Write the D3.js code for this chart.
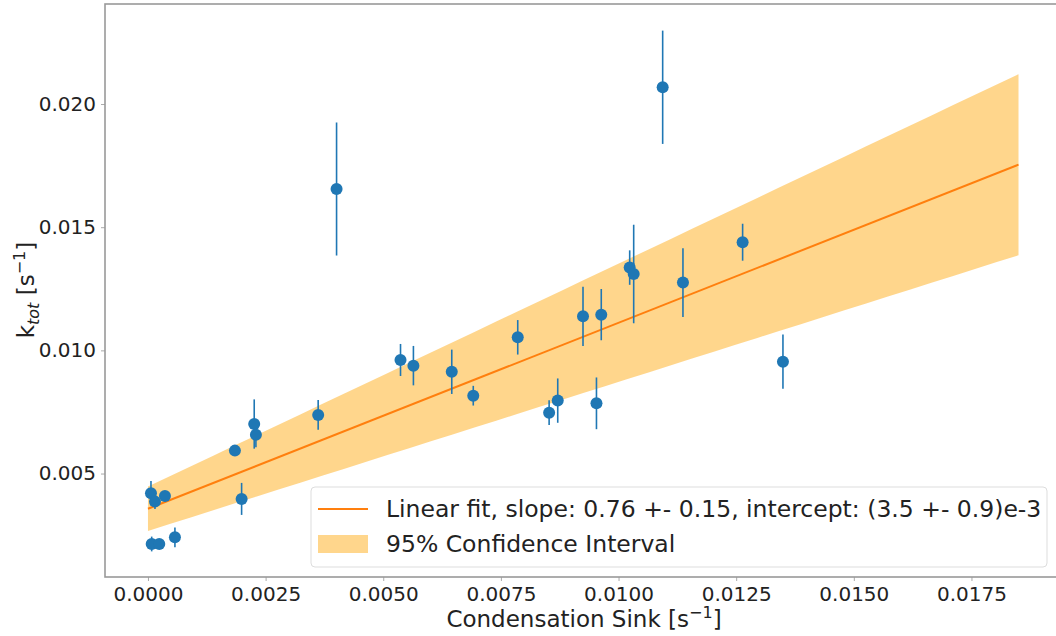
<!DOCTYPE html>
<html>
<head>
<meta charset="utf-8">
<script src="https://cdn.jsdelivr.net/npm/d3@7/dist/d3.min.js"></script>
<style>
  body { margin: 0; background: #fff; }
  svg { font-family: "DejaVu Sans", sans-serif; }
</style>
</head>
<body>
<div id="chart"></div>
<script>
// condensation sink (x) vs k_tot (y), with y error bars
var sinkValues = [0.000064, 0.000149, 0.000361, 0.000079, 0.000240, 0.000573, 0.001848, 0.001990,
  0.002258, 0.002294, 0.003617, 0.004008, 0.005367, 0.005641, 0.006456, 0.006913, 0.007858,
  0.008525, 0.008708, 0.009245, 0.009531, 0.009633, 0.010237, 0.010322, 0.010938, 0.011369,
  0.012637, 0.013494];
var kValues = [0.00420, 0.00386, 0.00409, 0.00214, 0.00214, 0.00241, 0.00593, 0.00397,
  0.00701, 0.00657, 0.00738, 0.01655, 0.00961, 0.00938, 0.00913, 0.00816, 0.01053,
  0.00747, 0.00796, 0.01138, 0.00785, 0.01145, 0.01336, 0.01310, 0.02068, 0.01275,
  0.01439, 0.00954];
var kErrors = [0.0005, 0.0003, 0.0002, 0.0003, 0.0002, 0.0004, 0.0002, 0.00065,
  0.0010, 0.0005, 0.0006, 0.0027, 0.00065, 0.0008, 0.0009, 0.0004, 0.0007,
  0.0005, 0.0009, 0.0012, 0.00105, 0.00104, 0.0007, 0.0020, 0.0023, 0.0014,
  0.00075, 0.0011];

// fit parameters
var fitSlope = 0.755, fitSlopeErr = 0.15;
var fitIntercept = 0.00357, fitInterceptErr = 0.0009;
var fitRange = [0, 0.0185];

var xTicks = [0, 0.0025, 0.005, 0.0075, 0.01, 0.0125, 0.015, 0.0175];
var yTicks = [0.005, 0.010, 0.015, 0.020];

var fitLabel = "Linear fit, slope: 0.76 +- 0.15, intercept: (3.5 +- 0.9)e-3";
var bandLabel = "95% Confidence Interval";

(function() {
var width = 1056, height = 636;
var mLeft = 105, mRight = 1062, mTop = 4, mBottom = 577;

var svg = d3.select("#chart").append("svg")
  .attr("width", width)
  .attr("height", height);

svg.append("rect").attr("width", width).attr("height", height).attr("fill", "#fff");

var x = d3.scaleLinear().domain([-0.000913, 0.019424]).range([mLeft, mRight]);
var y = d3.scaleLinear().domain([0.0008, 0.02406]).range([mBottom, mTop]);

// confidence band
var bandX = d3.range(0, 41).map(function(i) { return fitRange[0] + (fitRange[1] - fitRange[0]) * i / 40; });
var area = d3.area()
  .x(function(d) { return x(d); })
  .y0(function(d) { return y((fitIntercept - fitInterceptErr) + (fitSlope - fitSlopeErr) * d); })
  .y1(function(d) { return y((fitIntercept + fitInterceptErr) + (fitSlope + fitSlopeErr) * d); });

svg.append("path")
  .datum(bandX)
  .attr("fill", "rgba(255,165,0,0.45)")
  .attr("d", area);

var line = d3.line()
  .x(function(d) { return x(d); })
  .y(function(d) { return y(fitIntercept + fitSlope * d); });

svg.append("path")
  .datum(fitRange)
  .attr("fill", "none")
  .attr("stroke", "#ff7f0e")
  .attr("stroke-width", 2)
  .attr("d", line);

// error bars + points
var pts = sinkValues.map(function(v, i) { return { x: v, y: kValues[i], e: kErrors[i] }; });

svg.append("g").selectAll("line")
  .data(pts).enter().append("line")
  .attr("x1", function(d) { return x(d.x); })
  .attr("x2", function(d) { return x(d.x); })
  .attr("y1", function(d) { return y(d.y - d.e); })
  .attr("y2", function(d) { return y(d.y + d.e); })
  .attr("stroke", "#1f77b4")
  .attr("stroke-width", 1.6);

svg.append("g").selectAll("circle")
  .data(pts).enter().append("circle")
  .attr("cx", function(d) { return x(d.x); })
  .attr("cy", function(d) { return y(d.y); })
  .attr("r", 6)
  .attr("fill", "#1f77b4");

// axes
var xAxis = svg.append("g")
  .attr("transform", "translate(0," + mBottom + ")")
  .call(d3.axisBottom(x).tickValues(xTicks).tickFormat(d3.format(".4f")).tickSize(4).tickPadding(6));
var yAxis = svg.append("g")
  .attr("transform", "translate(" + mLeft + ",0)")
  .call(d3.axisLeft(y).tickValues(yTicks).tickFormat(d3.format(".3f")).tickSize(4).tickPadding(5));

[xAxis, yAxis].forEach(function(a) {
  a.select(".domain").remove();
  a.selectAll(".tick line").attr("stroke", "#aaa");
  a.selectAll(".tick text").attr("fill", "#222").style("font-size", "20px")
    .style("font-family", "DejaVu Sans");
});

// frame
svg.append("rect")
  .attr("x", mLeft).attr("y", mTop)
  .attr("width", mRight - mLeft).attr("height", mBottom - mTop)
  .attr("fill", "none")
  .attr("stroke", "#999")
  .attr("stroke-width", 1.6);

// axis labels
var xl = svg.append("text")
  .attr("x", 584)
  .attr("y", 627)
  .attr("text-anchor", "middle")
  .attr("fill", "#222")
  .style("font-size", "23px");
xl.append("tspan").text("Condensation Sink [s");
xl.append("tspan").attr("dy", -9).style("font-size", "16px").text("\u22121");
xl.append("tspan").attr("dy", 9).text("]");

var yl = svg.append("text")
  .attr("transform", "translate(34,290) rotate(-90)")
  .attr("text-anchor", "middle")
  .attr("fill", "#222")
  .style("font-size", "23px");
yl.append("tspan").text("k");
yl.append("tspan").attr("dy", 5).style("font-size", "16px").style("font-style", "italic").text("tot");
yl.append("tspan").attr("dy", -5).text(" [s");
yl.append("tspan").attr("dy", -9).style("font-size", "16px").text("\u22121");
yl.append("tspan").attr("dy", 9).text("]");

// legend
var lg = svg.append("g");
lg.append("rect")
  .attr("x", 311).attr("y", 487)
  .attr("width", 736).attr("height", 80)
  .attr("rx", 4)
  .attr("fill", "rgba(255,255,255,0.8)")
  .attr("stroke", "#ddd");
lg.append("line")
  .attr("x1", 318).attr("x2", 368).attr("y1", 509).attr("y2", 509)
  .attr("stroke", "#ff7f0e").attr("stroke-width", 2);
lg.append("rect")
  .attr("x", 318).attr("y", 535).attr("width", 50).attr("height", 18)
  .attr("fill", "rgba(255,165,0,0.45)");
lg.append("text").attr("x", 386).attr("y", 517).attr("fill", "#222")
  .style("font-size", "23.5px").text(fitLabel);
lg.append("text").attr("x", 386).attr("y", 552).attr("fill", "#222")
  .style("font-size", "23.5px").text(bandLabel);
})();
</script>
</body>
</html>
